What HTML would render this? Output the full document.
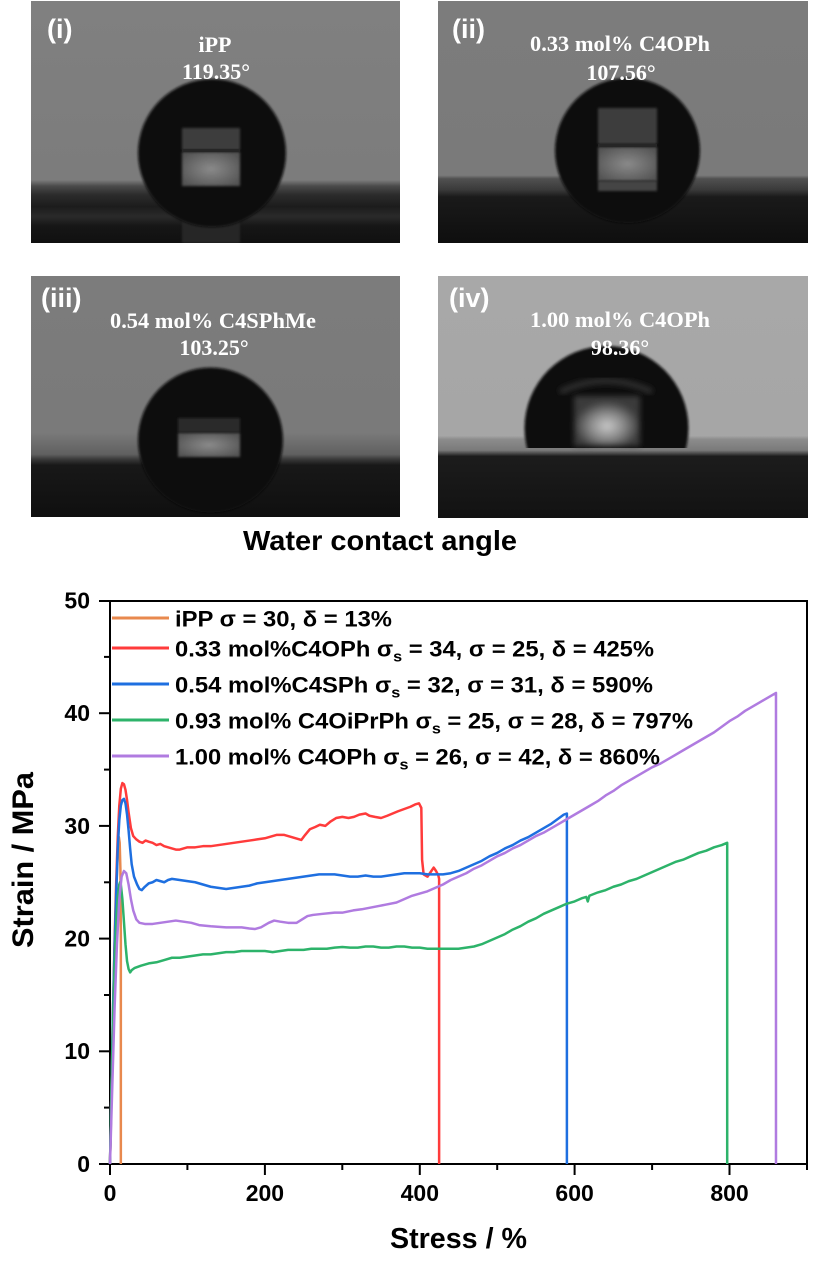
<!DOCTYPE html>
<html><head><meta charset="utf-8"><style>
html,body{margin:0;padding:0;background:#fff;}
svg{display:block;}
</style></head><body>
<svg width="819" height="1270" viewBox="0 0 819 1270" xmlns="http://www.w3.org/2000/svg">
<defs>
<filter id="b1" x="-20%" y="-20%" width="140%" height="140%"><feGaussianBlur stdDeviation="1.2"/></filter>
<filter id="b3" x="-30%" y="-30%" width="160%" height="160%"><feGaussianBlur stdDeviation="3"/></filter>
<clipPath id="c1"><rect x="31" y="1" width="369" height="242"/></clipPath>
<clipPath id="c2"><rect x="438" y="1" width="370" height="242"/></clipPath>
<clipPath id="c3"><rect x="31" y="276" width="369" height="241"/></clipPath>
<clipPath id="c4"><rect x="438" y="276" width="370" height="242"/></clipPath>
<clipPath id="cap4"><rect x="438" y="276" width="370" height="172"/></clipPath>
<linearGradient id="g1" x1="0" y1="1" x2="0" y2="243" gradientUnits="userSpaceOnUse">
<stop offset="0" stop-color="#808080"/><stop offset="0.74" stop-color="#7c7c7c"/>
<stop offset="0.765" stop-color="#4a4a4a"/><stop offset="0.80" stop-color="#2c2c2c"/>
<stop offset="0.85" stop-color="#1c1c1c"/><stop offset="0.89" stop-color="#2a2a2a"/>
<stop offset="0.93" stop-color="#161616"/><stop offset="1" stop-color="#101010"/></linearGradient>
<linearGradient id="g2" x1="0" y1="1" x2="0" y2="243" gradientUnits="userSpaceOnUse">
<stop offset="0" stop-color="#7c7c7c"/><stop offset="0.72" stop-color="#7a7a7a"/>
<stop offset="0.735" stop-color="#505050"/><stop offset="0.78" stop-color="#3a3a3a"/>
<stop offset="0.81" stop-color="#1a1a1a"/><stop offset="1" stop-color="#0e0e0e"/></linearGradient>
<linearGradient id="g3" x1="0" y1="276" x2="0" y2="517" gradientUnits="userSpaceOnUse">
<stop offset="0" stop-color="#7c7c7c"/><stop offset="0.65" stop-color="#7a7a7a"/>
<stop offset="0.74" stop-color="#606060"/><stop offset="0.76" stop-color="#3a3a3a"/>
<stop offset="0.785" stop-color="#181818"/><stop offset="1" stop-color="#0f0f0f"/></linearGradient>
<linearGradient id="g4" x1="0" y1="276" x2="0" y2="518" gradientUnits="userSpaceOnUse">
<stop offset="0" stop-color="#a8a8a8"/><stop offset="0.66" stop-color="#a6a6a6"/>
<stop offset="0.675" stop-color="#8c8c8c"/><stop offset="0.72" stop-color="#7a7a7a"/>
<stop offset="0.745" stop-color="#1c1c1c"/><stop offset="1" stop-color="#121212"/></linearGradient>
<radialGradient id="glow4" cx="0.5" cy="0.6" r="0.5"><stop offset="0" stop-color="#c8c8c8"/><stop offset="0.5" stop-color="#8a8a8a"/><stop offset="1" stop-color="#3a3a3a"/></radialGradient>
<radialGradient id="glowA" cx="0.5" cy="0.5" r="0.6"><stop offset="0" stop-color="#8a8a8a"/><stop offset="1" stop-color="#555"/></radialGradient>
</defs>

<!-- Photo (i) -->
<g clip-path="url(#c1)">
<rect x="31" y="1" width="369" height="242" fill="url(#g1)"/>
<rect x="182" y="187" width="58" height="56" fill="#262626" filter="url(#b1)"/>
<circle cx="212" cy="153" r="74" fill="#0d0d0d" filter="url(#b1)"/>
<rect x="182" y="128" width="58" height="22" fill="#3e3e3e" filter="url(#b1)"/>
<rect x="182" y="152" width="58" height="34" fill="url(#glowA)" filter="url(#b1)"/>
<rect x="182" y="149" width="58" height="3" fill="#262626"/>
</g>
<text x="47" y="38" font-family="Liberation Sans, sans-serif" font-weight="bold" font-size="27" fill="#fff">(i)</text>
<text x="215" y="52" text-anchor="middle" font-family="Liberation Serif, serif" font-weight="bold" font-size="22" fill="#fff">iPP</text>
<text x="216" y="79" text-anchor="middle" font-family="Liberation Serif, serif" font-weight="bold" font-size="22" fill="#fff">119.35°</text>

<!-- Photo (ii) -->
<g clip-path="url(#c2)">
<rect x="438" y="1" width="370" height="242" fill="url(#g2)"/>
<circle cx="627.5" cy="150.5" r="72.5" fill="#0d0d0d" filter="url(#b1)"/>
<rect x="598" y="108" width="59" height="36" fill="#3c3c3c" filter="url(#b1)"/>
<rect x="598" y="147" width="59" height="34" fill="url(#glowA)" filter="url(#b1)"/>
<rect x="598" y="144" width="59" height="3" fill="#262626"/>
<rect x="598" y="181" width="59" height="10" fill="#444" filter="url(#b1)"/>
</g>
<text x="452" y="38" font-family="Liberation Sans, sans-serif" font-weight="bold" font-size="27" fill="#fff">(ii)</text>
<text x="620" y="51" text-anchor="middle" font-family="Liberation Serif, serif" font-weight="bold" font-size="22" fill="#fff" textLength="180" lengthAdjust="spacingAndGlyphs">0.33 mol% C4OPh</text>
<text x="621" y="80" text-anchor="middle" font-family="Liberation Serif, serif" font-weight="bold" font-size="22" fill="#fff">107.56°</text>

<!-- Photo (iii) -->
<g clip-path="url(#c3)">
<rect x="31" y="276" width="369" height="241" fill="url(#g3)"/>
<circle cx="210.5" cy="440" r="72.5" fill="#0d0d0d" filter="url(#b1)"/>
<rect x="178" y="418" width="62" height="14" fill="#2c2c2c" filter="url(#b1)"/>
<rect x="178" y="433" width="62" height="24" fill="url(#glowA)" filter="url(#b1)"/>
</g>
<text x="41" y="307" font-family="Liberation Sans, sans-serif" font-weight="bold" font-size="27" fill="#fff">(iii)</text>
<text x="213" y="328" text-anchor="middle" font-family="Liberation Serif, serif" font-weight="bold" font-size="22" fill="#fff" textLength="206" lengthAdjust="spacingAndGlyphs">0.54 mol% C4SPhMe</text>
<text x="214" y="355" text-anchor="middle" font-family="Liberation Serif, serif" font-weight="bold" font-size="22" fill="#fff">103.25°</text>

<!-- Photo (iv) -->
<g clip-path="url(#c4)">
<rect x="438" y="276" width="370" height="242" fill="url(#g4)"/>
<g clip-path="url(#cap4)">
<circle cx="606.5" cy="428" r="82" fill="#0f0f0f" filter="url(#b1)"/>
</g>
<path d="M560 392 Q606 370 652 392" stroke="#2e2e2e" stroke-width="6" fill="none" filter="url(#b3)"/>
<rect x="574" y="396" width="66" height="50" fill="url(#glow4)" filter="url(#b3)"/>
</g>
<text x="449" y="307" font-family="Liberation Sans, sans-serif" font-weight="bold" font-size="27" fill="#fff">(iv)</text>
<text x="620" y="327" text-anchor="middle" font-family="Liberation Serif, serif" font-weight="bold" font-size="22" fill="#fff" textLength="180" lengthAdjust="spacingAndGlyphs">1.00 mol% C4OPh</text>
<text x="620" y="355" text-anchor="middle" font-family="Liberation Serif, serif" font-weight="bold" font-size="22" fill="#fff">98.36°</text>

<!-- Title -->
<text x="243" y="550" font-family="Liberation Sans, sans-serif" font-weight="bold" font-size="28" fill="#000" textLength="274" lengthAdjust="spacingAndGlyphs">Water contact angle</text>

<!-- Chart frame -->
<rect x="110" y="601" width="697" height="563" fill="none" stroke="#000" stroke-width="2"/>
<g stroke="#000" stroke-width="2">
<line x1="99" y1="1164" x2="110" y2="1164"/>
<line x1="99" y1="1051.3" x2="110" y2="1051.3"/>
<line x1="99" y1="938.6" x2="110" y2="938.6"/>
<line x1="99" y1="825.9" x2="110" y2="825.9"/>
<line x1="99" y1="713.2" x2="110" y2="713.2"/>
<line x1="99" y1="601" x2="110" y2="601"/>
<line x1="104" y1="1107.6" x2="110" y2="1107.6"/>
<line x1="104" y1="995" x2="110" y2="995"/>
<line x1="104" y1="882.3" x2="110" y2="882.3"/>
<line x1="104" y1="769.6" x2="110" y2="769.6"/>
<line x1="104" y1="656.9" x2="110" y2="656.9"/>
<line x1="110" y1="1164" x2="110" y2="1175"/>
<line x1="264.9" y1="1164" x2="264.9" y2="1175"/>
<line x1="419.8" y1="1164" x2="419.8" y2="1175"/>
<line x1="574.6" y1="1164" x2="574.6" y2="1175"/>
<line x1="729.5" y1="1164" x2="729.5" y2="1175"/>
<line x1="187.4" y1="1164" x2="187.4" y2="1170"/>
<line x1="342.3" y1="1164" x2="342.3" y2="1170"/>
<line x1="497.2" y1="1164" x2="497.2" y2="1170"/>
<line x1="652.1" y1="1164" x2="652.1" y2="1170"/>
<line x1="807" y1="1164" x2="807" y2="1170"/>
</g>
<g font-family="Liberation Sans, sans-serif" font-weight="bold" font-size="23" fill="#000" text-anchor="end">
<text x="90" y="1172">0</text>
<text x="90" y="1059">10</text>
<text x="90" y="946.5">20</text>
<text x="90" y="834">30</text>
<text x="90" y="721">40</text>
<text x="90" y="608.5">50</text>
</g>
<g font-family="Liberation Sans, sans-serif" font-weight="bold" font-size="23" fill="#000" text-anchor="middle">
<text x="110" y="1201">0</text>
<text x="264.9" y="1201">200</text>
<text x="419.8" y="1201">400</text>
<text x="574.6" y="1201">600</text>
<text x="729.5" y="1201">800</text>
</g>
<text x="390" y="1248" font-family="Liberation Sans, sans-serif" font-weight="bold" font-size="29" fill="#000" textLength="137" lengthAdjust="spacingAndGlyphs">Stress / %</text>
<text transform="translate(33,948) rotate(-90)" font-family="Liberation Sans, sans-serif" font-weight="bold" font-size="30" fill="#000" textLength="176" lengthAdjust="spacingAndGlyphs">Strain / MPa</text>

<!-- Curves -->
<g transform="translate(110,1164) scale(0.7744,-11.27)" fill="none" stroke-width="2.5" stroke-linejoin="round">
<polyline vector-effect="non-scaling-stroke" stroke="#E8894E" points="0,0 2,6 4,13 6,19 8,24 10,27.5 11.5,29 12.5,28.5 13.5,26 14,20 14,0"/>
<polyline vector-effect="non-scaling-stroke" stroke="#FF3B3B" points="0,0 2,7 4,14 6,20 8,25 10,29 12,31.8 14,33.3 16,33.8 18,33.7 20,33.2 22,32.3 24,31.2 27,29.8 30,29.1 34,28.8 38,28.6 42,28.5 46,28.7 50,28.6 55,28.5 60,28.3 65,28.4 70,28.2 75,28.1 80,28.0 85,27.9 90,27.9 95,28.0 100,28.1 110,28.1 120,28.2 130,28.2 140,28.3 150,28.4 160,28.5 170,28.6 180,28.7 190,28.8 200,28.9 210,29.1 215,29.2 225,29.2 235,29.0 247,28.75 252,29.2 258,29.7 265,29.9 271,30.1 278,30.0 285,30.4 292,30.7 300,30.8 308,30.7 315,30.8 322,31.0 330,31.1 335,30.9 342,30.8 350,30.7 358,30.9 365,31.1 372,31.3 380,31.5 388,31.7 394,31.9 399,32.0 402,31.6 403,27 405,25.7 410,25.5 414,25.9 418,26.3 421,26.0 424,25.6 425,25.3 425,0"/>
<polyline vector-effect="non-scaling-stroke" stroke="#1E6FE0" points="0,0 2,7 4,14 6,19.5 8,24 10,28 12,30.5 14,31.8 16,32.3 18,32.4 20,32.0 22,31.0 24,29.6 26,28.0 28,26.6 31,25.5 35,24.8 38,24.4 41,24.3 45,24.6 50,24.9 55,25.0 60,25.2 65,25.1 70,25.0 75,25.2 80,25.3 90,25.2 100,25.1 110,25.0 120,24.8 130,24.6 140,24.5 150,24.4 160,24.5 170,24.6 180,24.7 190,24.9 200,25.0 210,25.1 220,25.2 230,25.3 240,25.4 250,25.5 260,25.6 270,25.7 280,25.7 290,25.7 300,25.6 310,25.5 320,25.5 330,25.6 340,25.5 350,25.5 360,25.6 370,25.7 380,25.8 390,25.8 400,25.8 410,25.7 420,25.7 430,25.7 440,25.8 450,26.0 460,26.3 470,26.6 480,26.9 490,27.3 500,27.6 510,28.0 520,28.3 530,28.7 540,29.0 550,29.4 560,29.8 570,30.2 580,30.7 586,31.0 590,31.1 590,0"/>
<polyline vector-effect="non-scaling-stroke" stroke="#2DB36A" points="0,0 2,7 4,13 6,18 8,21.5 10,23.8 12,24.8 13,25 14,24.8 16,23.5 18,21.5 20,19.5 22,18 24,17.3 26,17.0 28,17.2 32,17.4 36,17.5 40,17.6 50,17.8 60,17.9 70,18.1 80,18.3 90,18.3 100,18.4 110,18.5 120,18.6 130,18.6 140,18.7 150,18.8 160,18.8 170,18.9 180,18.9 190,18.9 200,18.9 210,18.8 220,18.9 230,19.0 240,19.0 250,19.0 260,19.1 270,19.1 280,19.1 290,19.2 300,19.25 310,19.2 320,19.2 330,19.3 340,19.3 350,19.2 360,19.2 370,19.3 380,19.3 390,19.2 400,19.2 410,19.1 420,19.1 430,19.1 440,19.1 450,19.1 460,19.2 470,19.3 480,19.5 490,19.8 500,20.1 510,20.4 520,20.8 530,21.1 540,21.5 550,21.8 560,22.2 570,22.5 580,22.8 590,23.1 600,23.3 610,23.6 615,23.7 617,23.3 619,23.8 630,24.1 640,24.3 650,24.6 660,24.8 670,25.1 680,25.3 690,25.6 700,25.9 710,26.2 720,26.5 730,26.8 740,27.0 750,27.3 760,27.6 770,27.8 780,28.1 790,28.3 797,28.5 797,0"/>
<polyline vector-effect="non-scaling-stroke" stroke="#B07BE0" points="0,0 3,7 6,14 9,19.5 12,23.5 15,25.5 18,26 21,25.8 24,24.8 27,23.5 30,22.5 34,21.7 38,21.4 45,21.3 55,21.3 65,21.4 75,21.5 85,21.6 95,21.5 105,21.4 115,21.2 130,21.1 150,21.0 170,21.0 180,20.9 187,20.85 195,21.0 205,21.4 212,21.6 220,21.5 230,21.4 241,21.4 248,21.7 255,22.0 262,22.1 275,22.2 290,22.3 300,22.3 314,22.5 325,22.6 340,22.8 355,23.0 370,23.2 380,23.5 390,23.8 400,24.0 410,24.2 420,24.5 430,24.8 440,25.2 450,25.5 460,25.8 470,26.2 480,26.5 490,26.9 500,27.3 510,27.6 520,28.0 530,28.3 540,28.7 550,29.1 560,29.4 570,29.8 580,30.2 590,30.6 600,31.0 610,31.4 620,31.8 630,32.2 640,32.7 650,33.1 660,33.6 670,34.0 680,34.4 690,34.8 700,35.2 710,35.5 720,35.9 730,36.3 740,36.7 750,37.1 760,37.5 770,37.9 780,38.3 790,38.8 800,39.3 810,39.7 820,40.2 830,40.6 840,41.0 850,41.4 860,41.8 860,0"/>
</g>

<!-- Legend -->
<g stroke-width="3">
<line x1="112" y1="618" x2="169" y2="618" stroke="#E8894E"/>
<line x1="112" y1="648" x2="169" y2="648" stroke="#FF3B3B"/>
<line x1="112" y1="684" x2="169" y2="684" stroke="#1E6FE0"/>
<line x1="112" y1="720" x2="169" y2="720" stroke="#2DB36A"/>
<line x1="112" y1="756" x2="169" y2="756" stroke="#B07BE0"/>
</g>
<g font-family="Liberation Sans, DejaVu Sans, sans-serif" font-weight="bold" font-size="22" fill="#000">
<text x="175" y="626.5" textLength="217" lengthAdjust="spacingAndGlyphs">iPP σ = 30, δ = 13%</text>
<text x="175" y="656.5" textLength="479" lengthAdjust="spacingAndGlyphs">0.33 mol%C4OPh σ<tspan font-size="15" dy="5">s</tspan><tspan dy="-5"> = 34, σ = 25, δ = 425%</tspan></text>
<text x="175" y="692.5" textLength="478" lengthAdjust="spacingAndGlyphs">0.54 mol%C4SPh σ<tspan font-size="15" dy="5">s</tspan><tspan dy="-5"> = 32, σ = 31, δ = 590%</tspan></text>
<text x="175" y="728.5" textLength="518" lengthAdjust="spacingAndGlyphs">0.93 mol% C4OiPrPh σ<tspan font-size="15" dy="5">s</tspan><tspan dy="-5"> = 25, σ = 28, δ = 797%</tspan></text>
<text x="175" y="764.5" textLength="485" lengthAdjust="spacingAndGlyphs">1.00 mol% C4OPh σ<tspan font-size="15" dy="5">s</tspan><tspan dy="-5"> = 26, σ = 42, δ = 860%</tspan></text>
</g>
</svg>
</body></html>
